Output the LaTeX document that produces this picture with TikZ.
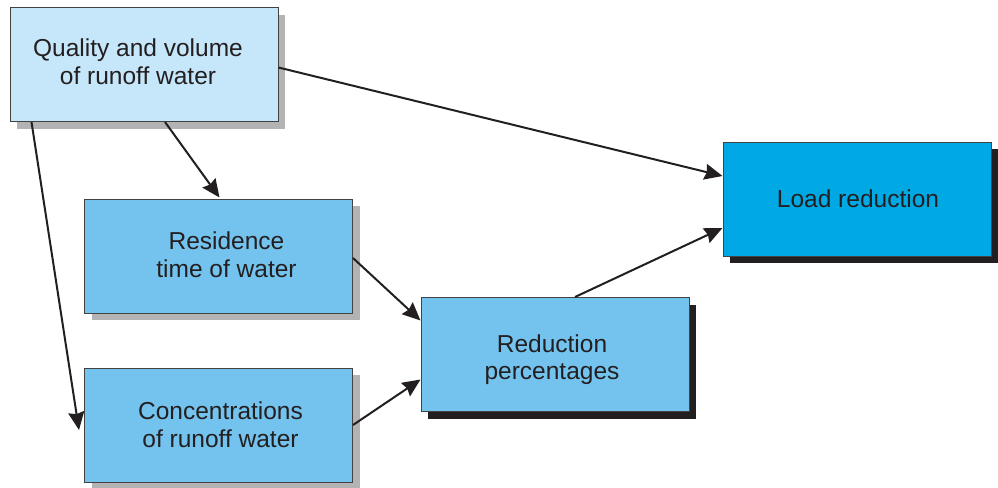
\documentclass[tikz,border=0pt]{standalone}
\usepackage{fontspec}
\setmainfont{Liberation Sans}
\usetikzlibrary{shadows,calc,arrows.meta}
\definecolor{txt}{HTML}{231F20}
\definecolor{paleblue}{HTML}{C6E6FA}
\definecolor{midblue}{HTML}{73C3EE}
\definecolor{deepblue}{HTML}{00A8E4}
\definecolor{shgray}{HTML}{B3B3B3}
\tikzset{
  boxbase/.style={draw=txt!85, line width=0.5pt, minimum width=134pt, minimum height=57pt, inner sep=0pt},
  boxtext/.style={align=center, text=txt, font=\fontsize{12.25}{13.8}\selectfont, inner sep=0pt},
  grayshadow/.style={general shadow={fill=shgray, shadow xshift=3.5pt, shadow yshift=-3.5pt}},
  blackshadow/.style={general shadow={fill=txt, shadow xshift=3.5pt, shadow yshift=-3.5pt}},
  conn/.style={draw=txt, line width=1pt, -{Stealth[length=9pt,width=8pt,inset=1pt]}},
}
\begin{document}
\begin{tikzpicture}[x=0.5pt,y=-0.5pt]
\useasboundingbox (0,0) rectangle (998,488);
\node[boxbase, grayshadow, fill=paleblue] (Q) at (144,64.5) {};
\node[boxbase, grayshadow, fill=midblue] (R) at (218.5,256) {};
\node[boxbase, grayshadow, fill=midblue] (C) at (218.5,425) {};
\node[boxbase, blackshadow, fill=midblue] (P) at (555,354.5) {};
\node[boxbase, blackshadow, fill=deepblue] (L) at (857,199) {};
\node[boxtext] (Qt) at ($(Q.center)+(-6,-3)$) {Quality and volume\\of runoff water};
\node[boxtext] (Rt) at ($(R.center)+(8,-1)$) {Residence\\time of water};
\node[boxtext] (Ct) at ($(C.center)+(2,0)$) {Concentrations\\of runoff water};
\node[boxtext] (Pt) at ($(P.center)+(-3,5)$) {Reduction\\percentages};
\node[boxtext] (Lt) at ($(L.center)+(1,0)$) {Load reduction};
\draw[conn] ($(Q.east)+(0,3)$) -- ($(L.west)+(0,-23)$);
\draw[conn] ($(Q.south)+(21,0)$) -- ($(R.north)+(1,-1)$);
\draw[conn] ($(Q.south west)+(22,0)$) -- ($(C.west)+(-5,5)$);
\draw[conn] ($(R.east)+(0,2)$) -- ($(P.west)+(0,-34)$);
\draw[conn] (C.east) -- ($(P.west)+(0,25)$);
\draw[conn] ($(P.north)+(20,0)$) -- ($(L.west)+(0,29)$);
\end{tikzpicture}
\end{document}
